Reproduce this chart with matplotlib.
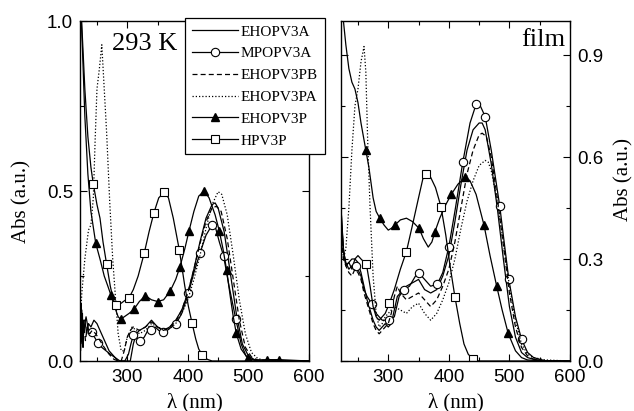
import matplotlib
matplotlib.use('Agg')
import matplotlib.pyplot as plt
import numpy as np
from matplotlib.ticker import MultipleLocator

plt.rcParams['font.family'] = 'Liberation Sans'
serif = 'Liberation Serif'

# ---- 293 K (solution) ----
s_ehopv3a_x = [222,223,224,225,226,227,228,230,233,236,240,245,250,255,260,265,270,275,280,285,300,305,310,315,320,330,340,345,350,360,370,380,390,400,410,420,430,440,445,450,460,470,480,490,500,510,520,600]
s_ehopv3a_y = [0.16,0.05,0.17,0.07,0.14,0.04,0.12,0.12,0.08,0.11,0.10,0.12,0.11,0.09,0.07,0.05,0.03,0.02,0.01,0.0,0.0,0.0,0.05,0.08,0.09,0.10,0.12,0.11,0.10,0.09,0.10,0.12,0.15,0.20,0.27,0.35,0.42,0.46,0.465,0.45,0.38,0.26,0.14,0.05,0.015,0.004,0.0,0.0]

s_mpopv3a_x = [222,223,225,226,228,230,232,236,241,246,252,258,265,272,280,288,296,302,306,310,315,321,328,334,340,346,352,359,366,373,380,390,401,410,420,430,440,446,452,459,468,479,488,496,505,515,600]
s_mpopv3a_y = [0.12,0.03,0.15,0.06,0.08,0.11,0.13,0.09,0.086,0.07,0.052,0.04,0.03,0.02,0.01,0.0,0.0,0.02,0.05,0.076,0.07,0.06,0.07,0.09,0.091,0.10,0.09,0.086,0.09,0.10,0.108,0.14,0.199,0.26,0.317,0.37,0.40,0.39,0.35,0.309,0.22,0.125,0.05,0.015,0.005,0.0,0.0]
s_mpopv3a_mk = [241,252,310,321,340,359,380,401,420,440,459,479]

s_ehopv3pb_x = [222,225,228,231,234,238,242,248,255,262,270,278,285,290,295,300,305,310,320,330,340,350,360,370,380,390,400,410,420,430,440,447,455,465,475,485,495,505,515,530,600]
s_ehopv3pb_y = [0.12,0.05,0.11,0.06,0.10,0.08,0.09,0.08,0.06,0.04,0.02,0.005,0.0,0.0,0.03,0.07,0.09,0.10,0.09,0.10,0.115,0.10,0.09,0.10,0.115,0.15,0.20,0.27,0.345,0.41,0.45,0.455,0.44,0.36,0.24,0.12,0.04,0.012,0.003,0.0,0.0]

s_ehopv3pa_x = [222,225,230,236,240,244,247,250,254,258,262,266,271,276,280,285,290,295,300,308,315,320,330,340,350,360,370,380,390,400,410,420,430,440,450,456,465,475,485,495,505,515,525,540,600]
s_ehopv3pa_y = [0.10,0.20,0.30,0.385,0.40,0.48,0.65,0.80,0.86,0.93,0.80,0.67,0.47,0.30,0.20,0.08,0.03,0.03,0.07,0.10,0.09,0.08,0.09,0.11,0.10,0.09,0.095,0.11,0.14,0.18,0.24,0.31,0.39,0.46,0.498,0.49,0.43,0.31,0.18,0.08,0.025,0.008,0.002,0.0,0.0]

s_ehopv3p_x = [222,226,230,235,240,248,255,262,268,273,280,285,289,295,303,311,320,330,340,350,360,371,380,387,395,402,410,418,427,435,445,452,458,464,470,475,480,488,499,510,530,551,600]
s_ehopv3p_y = [1.1,0.92,0.72,0.55,0.44,0.346,0.30,0.25,0.22,0.194,0.155,0.13,0.123,0.13,0.14,0.152,0.175,0.192,0.18,0.175,0.18,0.206,0.24,0.277,0.33,0.383,0.44,0.485,0.50,0.48,0.43,0.382,0.33,0.268,0.19,0.13,0.081,0.035,0.008,0.003,0.004,0.004,0.0]
s_ehopv3p_mk = [248,273,289,311,330,350,371,387,402,427,452,464,480,499,530,551]

s_hpv3p_x = [222,226,230,235,240,244,250,255,260,266,272,277,282,290,296,303,310,318,328,336,344,352,361,368,376,386,395,401,407,413,418,424,432,440,600]
s_hpv3p_y = [1.1,0.95,0.80,0.66,0.57,0.52,0.46,0.42,0.35,0.284,0.22,0.18,0.165,0.17,0.178,0.186,0.21,0.25,0.317,0.38,0.436,0.48,0.496,0.48,0.42,0.326,0.22,0.16,0.111,0.065,0.035,0.018,0.005,0.0,0.0]
s_hpv3p_mk = [244,266,282,303,328,344,361,386,407,424]

# ---- film ----
f_ehopv3a_x = [222,226,230,235,240,245,250,255,260,265,270,275,280,285,290,295,300,305,310,315,320,330,340,350,360,370,380,390,400,410,420,430,440,450,455,460,470,480,490,500,510,520,530,540,560,600]
f_ehopv3a_y = [0.42,0.33,0.28,0.29,0.27,0.30,0.29,0.26,0.22,0.18,0.15,0.12,0.10,0.09,0.10,0.11,0.10,0.11,0.15,0.19,0.20,0.22,0.23,0.24,0.21,0.20,0.21,0.25,0.31,0.41,0.52,0.62,0.68,0.70,0.70,0.68,0.58,0.45,0.30,0.16,0.07,0.025,0.01,0.005,0.0,0.0]

f_mpopv3a_x = [222,226,230,235,240,247,255,260,265,273,280,290,302,310,318,326,335,345,351,360,370,381,390,400,410,423,435,445,452,460,470,484,492,499,510,520,530,540,560,600]
f_mpopv3a_y = [0.45,0.32,0.29,0.27,0.28,0.28,0.25,0.21,0.19,0.168,0.14,0.12,0.12,0.13,0.19,0.209,0.22,0.25,0.258,0.24,0.22,0.226,0.26,0.336,0.44,0.584,0.70,0.755,0.75,0.719,0.62,0.456,0.34,0.24,0.13,0.064,0.025,0.01,0.0,0.0]
f_mpopv3a_mk = [247,273,302,326,351,381,400,423,445,460,484,499,520]

f_ehopv3pb_x = [222,226,230,235,240,245,250,255,260,265,270,275,280,285,290,295,300,305,310,315,320,330,340,350,360,370,380,390,400,410,420,430,440,450,455,462,470,480,490,500,510,520,530,540,560,600]
f_ehopv3pb_y = [0.38,0.30,0.28,0.26,0.25,0.27,0.26,0.24,0.20,0.17,0.14,0.11,0.09,0.08,0.09,0.10,0.11,0.14,0.19,0.22,0.20,0.18,0.19,0.20,0.18,0.16,0.18,0.22,0.27,0.35,0.45,0.55,0.62,0.665,0.67,0.66,0.60,0.48,0.34,0.20,0.10,0.04,0.015,0.005,0.0,0.0]

f_ehopv3pa_x = [222,226,230,235,240,245,250,255,260,263,266,270,275,280,285,290,295,300,305,310,320,330,340,350,360,370,380,390,400,410,420,430,440,450,460,465,470,480,490,500,510,520,530,540,560,600]
f_ehopv3pa_y = [0.40,0.30,0.33,0.45,0.62,0.75,0.80,0.88,0.925,0.85,0.65,0.45,0.25,0.14,0.10,0.11,0.13,0.14,0.15,0.16,0.15,0.14,0.16,0.17,0.14,0.12,0.14,0.18,0.23,0.30,0.39,0.47,0.53,0.575,0.59,0.585,0.56,0.47,0.35,0.22,0.12,0.05,0.02,0.01,0.003,0.0]

f_ehopv3p_x = [222,226,230,235,240,245,250,255,263,268,275,280,286,293,300,305,311,320,330,340,351,358,366,372,377,385,395,404,415,427,435,445,458,468,479,488,498,510,520,530,560,600]
f_ehopv3p_y = [1.05,1.0,0.93,0.86,0.82,0.80,0.76,0.70,0.62,0.57,0.48,0.44,0.42,0.40,0.385,0.39,0.40,0.415,0.42,0.41,0.39,0.36,0.335,0.35,0.38,0.42,0.46,0.49,0.52,0.54,0.53,0.49,0.40,0.31,0.22,0.15,0.081,0.03,0.01,0.003,0.0,0.0]
f_ehopv3p_mk = [263,286,311,351,377,404,427,458,479,498]

f_hpv3p_x = [222,226,230,235,240,245,250,255,264,270,275,280,285,290,295,302,310,320,330,340,350,357,363,370,378,387,395,402,410,418,425,432,440,450,600]
f_hpv3p_y = [0.45,0.33,0.28,0.29,0.30,0.30,0.31,0.30,0.284,0.22,0.16,0.13,0.12,0.13,0.14,0.17,0.21,0.27,0.322,0.40,0.48,0.535,0.55,0.54,0.51,0.454,0.37,0.28,0.189,0.11,0.05,0.02,0.005,0.0,0.0]
f_hpv3p_mk = [264,302,330,363,387,410,440]

labels = ['EHOPV3A', 'MPOPV3A', 'EHOPV3PB', 'EHOPV3PA', 'EHOPV3P', 'HPV3P']


def idx(xs, mk):
    return [xs.index(w) for w in mk]


def draw(ax, d):
    lw = 0.9
    ax.plot(d[0][0], d[0][1], color='k', lw=lw)
    ax.plot(d[1][0], d[1][1], color='k', lw=lw, marker='o', ms=6,
            mfc='white', mec='k', mew=0.8, markevery=idx(d[1][0], d[1][2]))
    ax.plot(d[2][0], d[2][1], color='k', lw=lw, dashes=(4, 2.5))
    ax.plot(d[3][0], d[3][1], color='k', lw=lw, dashes=(1, 1.6))
    ax.plot(d[4][0], d[4][1], color='k', lw=lw, marker='^', ms=6,
            mfc='k', mec='k', markevery=idx(d[4][0], d[4][2]))
    ax.plot(d[5][0], d[5][1], color='k', lw=lw, marker='s', ms=5.5,
            mfc='white', mec='k', mew=0.8, markevery=idx(d[5][0], d[5][2]))


fig = plt.figure(figsize=(6.34, 4.11), dpi=100)
ax1 = fig.add_axes([80/634, 50/411, 229/634, 340/411])
ax2 = fig.add_axes([341/634, 50/411, 229/634, 340/411])

draw(ax1, [(s_ehopv3a_x, s_ehopv3a_y), (s_mpopv3a_x, s_mpopv3a_y, s_mpopv3a_mk),
           (s_ehopv3pb_x, s_ehopv3pb_y), (s_ehopv3pa_x, s_ehopv3pa_y),
           (s_ehopv3p_x, s_ehopv3p_y, s_ehopv3p_mk), (s_hpv3p_x, s_hpv3p_y, s_hpv3p_mk)])
draw(ax2, [(f_ehopv3a_x, f_ehopv3a_y), (f_mpopv3a_x, f_mpopv3a_y, f_mpopv3a_mk),
           (f_ehopv3pb_x, f_ehopv3pb_y), (f_ehopv3pa_x, f_ehopv3pa_y),
           (f_ehopv3p_x, f_ehopv3p_y, f_ehopv3p_mk), (f_hpv3p_x, f_hpv3p_y, f_hpv3p_mk)])

for ax in (ax1, ax2):
    ax.set_xlim(222, 600)
    ax.set_ylim(0, 1.0)
    ax.set_xticks([300, 400, 500, 600])
    ax.xaxis.set_minor_locator(MultipleLocator(50))
    ax.tick_params(which='both', direction='in', top=True, right=True, labelsize=13.5, width=0.8)
    ax.tick_params(which='major', length=5)
    ax.tick_params(which='minor', length=3)
    ax.tick_params(axis='x', pad=6)
    ax.tick_params(axis='y', pad=5)
    ax.set_xlabel('λ (nm)', family=serif, fontsize=15)
    ax.xaxis.set_label_coords(0.5, -0.093)
    for s in ax.spines.values():
        s.set_linewidth(1.0)

ax1.yaxis.set_major_locator(MultipleLocator(0.5))
ax1.yaxis.set_minor_locator(MultipleLocator(0.25))
ax1.yaxis.set_major_formatter('{x:.1f}')
ax1.set_ylabel('Abs (a.u.)', family=serif, fontsize=15)
ax1.yaxis.set_label_coords(-0.21, 0.47)
ax1.text(274, 0.965, '293 K', family=serif, fontsize=19, va='top')

ax2.set_yticks([0, 0.3, 0.6, 0.9])
ax2.yaxis.set_minor_locator(MultipleLocator(0.15))
ax2.yaxis.set_major_formatter('{x:.1f}')
ax2.tick_params(axis='y', labelleft=False, labelright=True)
ax2.yaxis.set_label_position('right')
ax2.set_ylabel('Abs (a.u.)', family=serif, fontsize=15)
ax2.yaxis.set_label_coords(1.195, 0.535)
ax2.text(593, 0.975, 'film', family=serif, fontsize=19, va='top', ha='right')

leg = fig.legend(ax1.get_lines(), labels, loc='upper left',
                 bbox_to_anchor=(185/634, 1 - 18/411), borderaxespad=0,
                 prop={'family': serif, 'size': 11}, numpoints=1,
                 handlelength=3.0, handletextpad=0.2, labelspacing=0.53,
                 borderpad=0.45, fancybox=False, framealpha=1, edgecolor='k')
leg.get_frame().set_linewidth(0.9)

plt.savefig('out.png', dpi=100)
